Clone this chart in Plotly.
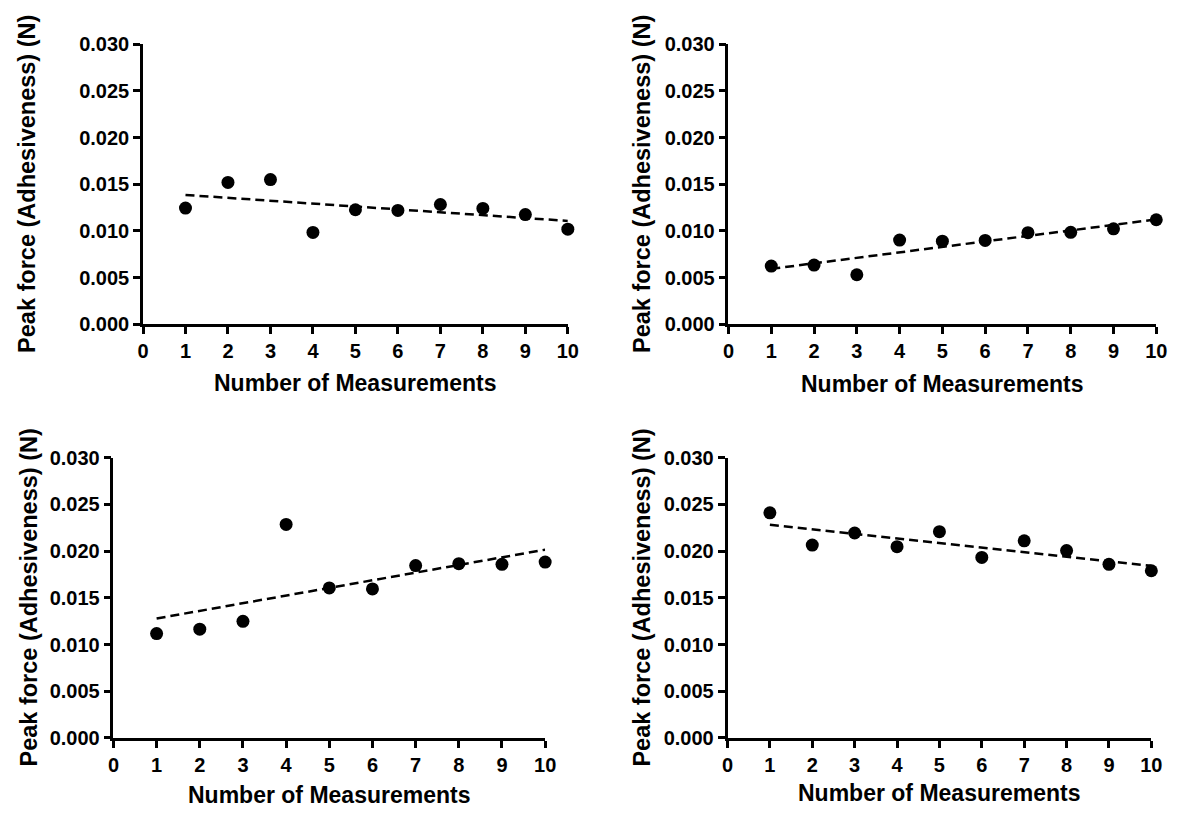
import numpy as np
import plotly.graph_objects as go

W, H = 1186, 821

measurements = [1, 2, 3, 4, 5, 6, 7, 8, 9, 10]
x_ticks = [0, 1, 2, 3, 4, 5, 6, 7, 8, 9, 10]
y_ticks = [0.000, 0.005, 0.010, 0.015, 0.020, 0.025, 0.030]

panel_a = [0.01245, 0.01519, 0.01550, 0.00984, 0.01227, 0.01220, 0.01283, 0.01241, 0.01175, 0.01019]
panel_b = [0.00624, 0.00635, 0.00531, 0.00902, 0.00891, 0.00898, 0.00981, 0.00985, 0.01023, 0.01120]
panel_c = [0.01117, 0.01165, 0.01249, 0.02286, 0.01606, 0.01595, 0.01845, 0.01866, 0.01859, 0.01883]
panel_d = [0.02410, 0.02065, 0.02194, 0.02048, 0.02208, 0.01933, 0.02110, 0.02006, 0.01859, 0.01790]

x_title = "Number of Measurements"
y_title = "Peak force (Adhesiveness) (N)"

FONT = "Liberation Sans, Arial, sans-serif"

# pixel boxes of each plot area: (left, right, top, bottom)
boxes = [
    (139, 570, 34, 322),
    (733, 1167, 34, 322),
    (109, 547, 459, 747),
    (732, 1162, 459, 747),
]
ytitle_x = [22, 645, 23, 645]
xtitle_y = [382, 383, 806, 804]

series = [panel_a, panel_b, panel_c, panel_d]

fig = go.Figure()
annotations = []
layout_axes = {}

for i, (vals, box) in enumerate(zip(series, boxes)):
    n = "" if i == 0 else str(i + 1)
    l, r, t, b = box
    xa = dict(
        domain=[l / W, r / W], range=[0, 10], tickvals=x_ticks,
        showline=True, linecolor="black", linewidth=2.5,
        ticks="outside", ticklen=7, tickwidth=2.5, tickcolor="black",
        showgrid=False, zeroline=False,
        tickfont=dict(family=FONT, size=20, color="black", weight="bold"),
        anchor="y" + n, fixedrange=True,
    )
    ya = dict(
        domain=[1 - b / H, 1 - t / H], range=[0, 0.030], tickvals=y_ticks,
        tickformat=".3f",
        showline=True, linecolor="black", linewidth=2.5,
        ticks="outside", ticklen=7, tickwidth=2.5, tickcolor="black",
        showgrid=False, zeroline=False,
        tickfont=dict(family=FONT, size=20, color="black", weight="bold"),
        anchor="x" + n, fixedrange=True,
    )
    layout_axes["xaxis" + n] = xa
    layout_axes["yaxis" + n] = ya

    # linear regression trend line computed from the data
    slope, intercept = np.polyfit(measurements, vals, 1)
    fx = [measurements[0], measurements[-1]]
    fy = [slope * v + intercept for v in fx]
    fig.add_trace(go.Scatter(
        x=fx, y=fy, mode="lines", xaxis="x" + n, yaxis="y" + n,
        line=dict(color="black", width=2.5, dash="9px,5px"),
        showlegend=False, hoverinfo="skip", cliponaxis=False,
    ))
    fig.add_trace(go.Scatter(
        x=measurements, y=vals, mode="markers", xaxis="x" + n, yaxis="y" + n,
        marker=dict(color="black", size=13, symbol="circle"),
        showlegend=False, cliponaxis=False,
    ))

    annotations.append(dict(
        text=x_title, xref="paper", yref="paper",
        x=(l + r) / 2 / W, y=1 - xtitle_y[i] / H,
        xanchor="center", yanchor="middle", showarrow=False,
        font=dict(family=FONT, size=23, color="black", weight="bold"),
    ))
    annotations.append(dict(
        text=y_title, xref="paper", yref="paper",
        x=ytitle_x[i] / W, y=1 - (t + b) / 2 / H,
        xanchor="center", yanchor="middle", showarrow=False, textangle=-90,
        font=dict(family=FONT, size=23.5, color="black", weight="bold"),
    ))

fig.update_layout(
    width=W, height=H,
    margin=dict(l=0, r=0, t=0, b=0),
    paper_bgcolor="white", plot_bgcolor="white",
    annotations=annotations,
    **layout_axes,
)

fig.write_html(
    "out.html",
    config={"displayModeBar": False},
    post_script="document.body.style.margin='0';document.body.style.overflow='hidden';",
)
